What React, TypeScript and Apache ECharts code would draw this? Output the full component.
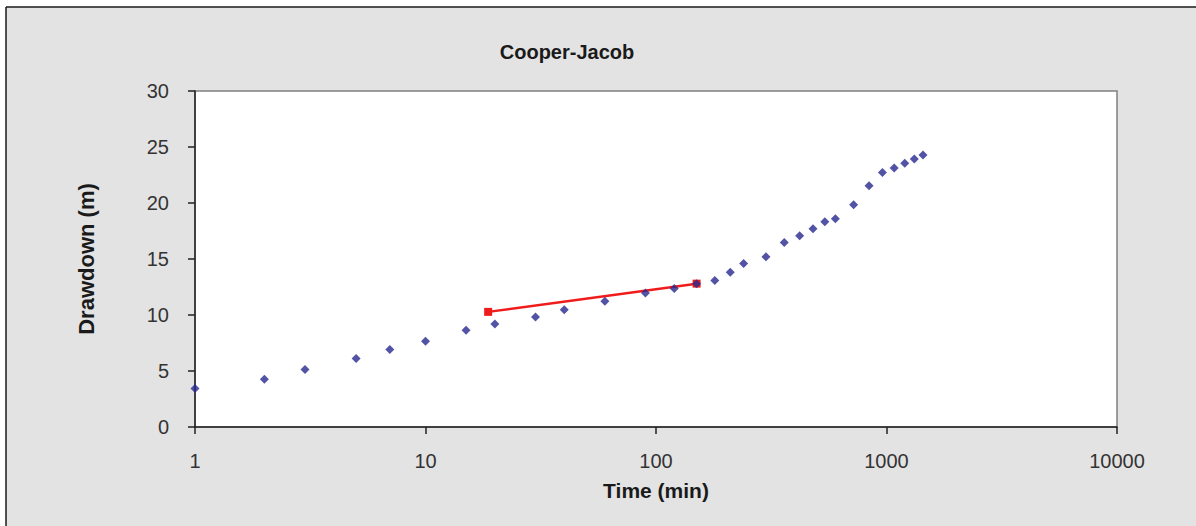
import React, { useEffect, useRef } from "react";
import * as echarts from "echarts";

// Pumping test: elapsed time (min) and measured drawdown (m)
const timeMin = [1, 2, 3, 5, 7, 10, 15, 20, 30, 40, 60, 90, 120, 150, 180, 210, 240, 300, 360, 420, 480, 540, 600, 720, 840, 960, 1080, 1200, 1320, 1440];
const drawdown = [3.43, 4.26, 5.13, 6.11, 6.92, 7.66, 8.64, 9.2, 9.83, 10.46, 11.23, 11.97, 12.37, 12.8, 13.08, 13.82, 14.6, 15.19, 16.48, 17.07, 17.69, 18.32, 18.59, 19.84, 21.54, 22.73, 23.12, 23.54, 23.92, 24.28];

// Straight-line fit over the early part of the curve
const fitTime = [18.7, 150];
const fitDrawdown = [10.28, 12.8];

const yTicks = { min: 0, max: 30, interval: 5 };
const xRange = { min: 1, max: 10000 };

const FONT = "'Liberation Sans', Arial, sans-serif";

export default function App() {
  const ref = useRef<HTMLDivElement>(null);

  useEffect(() => {
    if (!ref.current) return;
    const chart = echarts.init(ref.current, undefined, { renderer: "svg" });
    chart.setOption({
      animation: false,
      backgroundColor: "#ffffff",
      graphic: [
        {
          type: "rect",
          z: -10,
          silent: true,
          shape: { x: 6, y: 7, width: 1200, height: 530 },
          style: { fill: "#e3e3e3" },
        },
        {
          type: "line",
          z: -9,
          silent: true,
          shape: { x1: 6, y1: 7, x2: 1196, y2: 7 },
          style: { stroke: "#1a1a1a", lineWidth: 1.5 },
        },
        {
          type: "line",
          z: -9,
          silent: true,
          shape: { x1: 6, y1: 7, x2: 6, y2: 526 },
          style: { stroke: "#1a1a1a", lineWidth: 1.5 },
        },
        {
          type: "text",
          x: 567,
          y: 52,
          style: {
            text: "Cooper-Jacob",
            fontFamily: FONT,
            fontSize: 20,
            fontWeight: "bold",
            fill: "#1a1a1a",
            align: "center",
            verticalAlign: "middle",
          },
        },
      ],
      grid: {
        left: 195,
        top: 91,
        right: 79,
        bottom: 99,
        show: true,
        backgroundColor: "#ffffff",
        borderColor: "#808080",
        borderWidth: 1.5,
      },
      xAxis: {
        type: "log",
        logBase: 10,
        min: xRange.min,
        max: xRange.max,
        name: "Time (min)",
        nameLocation: "middle",
        nameGap: 53,
        nameTextStyle: { fontFamily: FONT, fontSize: 21, fontWeight: "bold", color: "#1a1a1a" },
        axisLine: { show: true, lineStyle: { color: "#222222", width: 1.5 } },
        axisTick: { show: true, inside: false, length: 7, lineStyle: { color: "#222222", width: 1.5 } },
        minorTick: { show: false },
        axisLabel: {
          fontFamily: FONT,
          fontSize: 20,
          color: "#333333",
          margin: 24,
          formatter: (v: number) => String(Math.round(v)),
        },
        splitLine: { show: false },
      },
      yAxis: {
        type: "value",
        min: yTicks.min,
        max: yTicks.max,
        interval: yTicks.interval,
        name: "Drawdown (m)",
        nameLocation: "middle",
        nameGap: 98,
        nameRotate: 90,
        nameTextStyle: { fontFamily: FONT, fontSize: 22, fontWeight: "bold", color: "#1a1a1a" },
        axisLine: { show: true, lineStyle: { color: "#222222", width: 1.5 } },
        axisTick: { show: true, inside: false, length: 7, lineStyle: { color: "#222222", width: 1.5 } },
        axisLabel: { fontFamily: FONT, fontSize: 20, color: "#333333", margin: 26 },
        splitLine: { show: false },
      },
      series: [
        {
          type: "scatter",
          data: timeMin.map((t, i) => [t, drawdown[i]]),
          symbol: "diamond",
          symbolSize: 9,
          itemStyle: { color: "#28288f" },
          z: 3,
        },
        {
          type: "line",
          data: fitTime.map((t, i) => [t, fitDrawdown[i]]),
          symbol: "rect",
          symbolSize: 8,
          showSymbol: true,
          lineStyle: { color: "#f01c1c", width: 2.5 },
          itemStyle: { color: "#f01c1c" },
          z: 2,
        },
      ],
    });
    return () => chart.dispose();
  }, []);

  return (
    <div
      ref={ref}
      style={{ position: "fixed", left: 0, top: 0, width: 1196, height: 526 }}
    />
  );
}
